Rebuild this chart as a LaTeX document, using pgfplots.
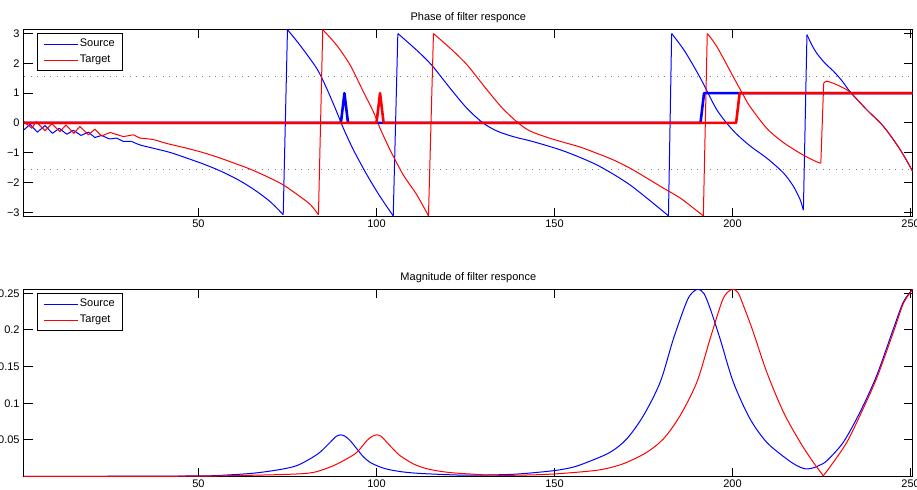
\documentclass[border=0pt]{standalone}
\usepackage{pgfplots}
\pgfplotsset{compat=1.18}
\usepackage{fontspec}
\setmainfont{Liberation Sans}
\newcommand{\fsz}{\fontsize{5.5pt}{6.6pt}\selectfont}
\pgfplotsset{
  mystyle/.style={
    scale only axis, width=444.35pt, height=93.6pt,
    xmin=1, xmax=250.6,
    xtick={50,100,150,200,250}, xticklabels={50,100,150,200,250},
    tick align=inside, major tick length=4.5pt,
    axis line style={line width=0.5pt},
    every tick/.style={black, line width=0.5pt},
    tick label style={font=\fsz},
    xticklabel style={inner sep=0pt, yshift=-1.7pt},
    yticklabel style={inner sep=0pt, xshift=-2pt},
    title style={font=\fsz, anchor=base, at={(0.5,1)}, yshift=-1.5pt, inner sep=0pt},
    legend style={at={(0,1)}, anchor=north west, xshift=6.65pt, yshift=-2pt,
      draw=black, line width=0.5pt, fill=white, font=\fsz,
      inner xsep=3pt, inner ysep=1.15pt, row sep=0pt,
      nodes={inner xsep=0.85pt, inner ysep=1.4pt, text height=4pt, text depth=1.2pt}},
    legend image code/.code={\draw (0pt,0pt) -- (16.7pt,0pt);},
    legend cell align=left,
  },
  thin/.style={line width=0.5pt, line join=round},
  sm/.style={line width=0.5pt, line join=round, smooth, tension=0.5},
  thick/.style={line width=1.3pt, line join=round},
}
\definecolor{mblue}{RGB}{0,0,255}
\definecolor{mred}{RGB}{255,0,0}
\definecolor{dotgray}{RGB}{128,128,128}
\begin{document}
\begin{tikzpicture}
\begin{axis}[mystyle, at={(12pt,-14.65pt)}, anchor=north west,
  ymin=-3.1416, ymax=3.1416,
  ytick={-3,-2,-1,0,1,2,3}, yticklabels={−3,−2,−1,0,1,2,3},
  title={Phase of filter responce}]
\addplot[forget plot, dotgray, line width=0.5pt, dash pattern=on 0.5pt off 2.8pt] coordinates {(1,1.5708) (250.6,1.5708)};
\addplot[forget plot, dotgray, line width=0.5pt, dash pattern=on 0.5pt off 2.8pt] coordinates {(1,-1.5708) (250.6,-1.5708)};
% Source phase
\addplot[mblue, thin] coordinates {
(1,-0.23) (2.7,-0.05) (4.75,-0.31) (6.9,-0.09) (9.0,-0.35) (10.9,-0.18) (13.0,-0.38) (14.9,-0.25) (17.0,-0.42) (19.1,-0.31) (20.9,-0.49) (22.8,-0.42) (25.0,-0.54) (27.0,-0.51) (28.9,-0.62) (31.2,-0.62)
};
\addlegendentry{Source}
\addplot[forget plot, mblue, sm] coordinates {
(31.2,-0.62) (33.6,-0.74) (37.3,-0.85) (42.0,-0.99) (46.7,-1.18) (51.4,-1.38) (56.1,-1.61) (60.7,-1.88) (64.5,-2.15) (67.3,-2.38) (70.5,-2.68) (73.8,-3.08)
};
\addplot[forget plot, mblue, thin] coordinates {(73.8,-3.08) (75.0,3.13)};
\addplot[forget plot, mblue, sm] coordinates {
(75.0,3.13) (78.5,2.61) (83.2,1.83) (86.0,1.16) (88.8,0.38) (90.7,-0.18) (93.5,-0.9) (97.3,-1.74) (101.0,-2.47) (104.7,-3.12)
};
\addplot[forget plot, mblue, thin] coordinates {(104.7,-3.12) (106.0,3.0)};
\addplot[forget plot, mblue, sm] coordinates {
(106.0,3.0) (111.3,2.44) (115.5,1.94) (120.7,1.16) (125.4,0.49) (129.9,0.0) (133.8,-0.27) (138.4,-0.46) (143.1,-0.60) (147.8,-0.76) (152.5,-0.94) (157.2,-1.16) (161.9,-1.41) (166.5,-1.72) (171.2,-2.08) (175.9,-2.52) (179.7,-2.89) (182.0,-3.12)
};
\addplot[forget plot, mblue, thin] coordinates {(182.0,-3.12) (182.9,3.0)};
\addplot[forget plot, mblue, sm] coordinates {
(182.9,3.0) (186.5,2.42) (190.9,1.52) (195.6,0.44) (200.2,-0.26) (204.9,-0.77) (209.6,-1.18) (214.3,-1.68) (217.1,-2.13) (219.0,-2.58) (219.9,-2.93)
};
\addplot[forget plot, mblue, thin] coordinates {(219.9,-2.93) (220.9,2.96)};
\addplot[forget plot, mblue, sm] coordinates {
(220.9,2.96) (222.3,2.61) (223.7,2.33) (226.0,2.0) (228.3,1.74) (230.7,1.42) (233.0,1.05) (237.7,0.44) (242.4,-0.12) (247.1,-0.9) (250.6,-1.63)
};
% Target phase
\addplot[mred, thin] coordinates {
(1,0.04) (3.2,-0.18) (4.4,0.04) (6.9,-0.26) (8.8,-0.03) (11.1,-0.29) (12.8,-0.07) (15.0,-0.35) (16.7,-0.12) (19.1,-0.40) (20.9,-0.21) (22.8,-0.44) (25.2,-0.32) (28.9,-0.46) (31.7,-0.40) (33.6,-0.51)
};
\addlegendentry{Target}
\addplot[forget plot, mred, sm] coordinates {
(33.6,-0.51) (37.3,-0.56) (41.1,-0.69) (46.7,-0.85) (51.4,-1.0) (56.1,-1.18) (60.7,-1.38) (64.5,-1.55) (69.2,-1.80) (73.8,-2.08) (78.5,-2.47) (81.5,-2.75) (83.7,-3.08)
};
\addplot[forget plot, mred, thin] coordinates {(83.7,-3.08) (84.9,3.13)};
\addplot[forget plot, mred, sm] coordinates {
(84.9,3.13) (88.8,2.61) (92.6,1.94) (96.3,1.05) (99.1,0.38) (101.0,-0.18) (103.8,-0.9) (107.5,-1.74) (111.3,-2.41) (114.6,-3.12)
};
\addplot[forget plot, mred, thin] coordinates {(114.6,-3.12) (116.0,3.0)};
\addplot[forget plot, mred, sm] coordinates {
(116.0,3.0) (121.3,2.44) (125.5,1.94) (130.7,1.16) (135.4,0.49) (139.8,0.0) (143.1,-0.27) (147.8,-0.48) (152.5,-0.65) (157.2,-0.81) (161.9,-1.02) (166.5,-1.24) (171.2,-1.52) (175.9,-1.85) (180.6,-2.19) (185.3,-2.52) (189.0,-2.86) (191.8,-3.12)
};
\addplot[forget plot, mred, thin] coordinates {(191.8,-3.12) (192.9,3.0)};
\addplot[forget plot, mred, sm] coordinates {
(192.9,3.0) (195.6,2.56) (200.2,1.55) (203.0,0.94) (204.9,0.55) (209.6,-0.18) (214.3,-0.66) (219.0,-1.02) (221.8,-1.2) (224.1,-1.33) (224.8,-1.35)
};
\addplot[forget plot, mred, thin] coordinates {(224.8,-1.35) (225.6,1.33)};
\addplot[forget plot, mred, sm] coordinates {
(225.6,1.33) (226.4,1.40) (228.3,1.33) (230.7,1.2) (233.0,1.03) (237.7,0.44) (242.4,-0.12) (247.1,-0.9) (250.6,-1.63)
};
\addplot[forget plot, mblue, thick] coordinates {(1,0) (90,0) (91,1) (92,0) (191,0) (192,1) (250.6,1)};
\addplot[forget plot, mred, thick] coordinates {(1,0) (100,0) (101,1) (102,0) (201,0) (202,1) (250.6,1)};
\end{axis}
\begin{axis}[mystyle, at={(12pt,-144.65pt)}, anchor=north west,
  ymin=0, ymax=0.2555,
  ytick={0.05,0.1,0.15,0.2,0.25}, yticklabels={0.05,0.1,0.15,0.2,0.25},
  title={Magnitude of filter responce}]
\addplot[mblue, sm] coordinates {
(1,0.0002) (30,0.0004) (50,0.0008) (56,0.0015) (65.4,0.0045) (72.9,0.0095) (77.6,0.0148) (81.3,0.024) (84.1,0.033) (87.0,0.0467) (88.6,0.0545) (90.0,0.0569) (91.3,0.0545) (92.6,0.049) (94.5,0.0377) (96.3,0.027) (98.2,0.0193) (100.5,0.014) (102.9,0.0101) (107,0.0065) (112.2,0.0042) (121.6,0.0022) (126.3,0.0018) (132.8,0.0022) (140,0.0035) (149.7,0.0079) (155,0.0125) (159.1,0.0193) (165.6,0.033) (170.3,0.0514) (175.0,0.0833) (179.7,0.129) (183.4,0.188) (187.1,0.2385) (188.8,0.2515) (190.4,0.2555) (192.0,0.2495) (193.7,0.2295) (196.5,0.188) (200.2,0.129) (204.9,0.0788) (209.6,0.0467) (215.2,0.024) (218.2,0.0145) (220.4,0.0105) (222.5,0.0115) (224.5,0.0155) (226.5,0.0216) (231.1,0.0467) (235.8,0.0878) (240.5,0.138) (245.2,0.202) (248.0,0.2385) (250.6,0.2555)
};
\addlegendentry{Source}
\addplot[mred, sm] coordinates {
(1,0.0001) (50,0.0004) (56,0.0008) (74.8,0.0029) (82.3,0.0056) (87.9,0.0148) (91.6,0.024) (94.5,0.033) (97.3,0.049) (98.7,0.0545) (100.1,0.0569) (101.4,0.0545) (102.9,0.0467) (104.6,0.038) (106.6,0.0285) (110.4,0.0171) (113.5,0.0115) (116.9,0.0079) (121,0.0052) (126.3,0.0034) (132.8,0.0018) (140,0.0018) (149.7,0.0034) (160.9,0.0079) (166,0.0125) (170.3,0.0193) (175.9,0.033) (180.6,0.0514) (185.3,0.0833) (190.0,0.129) (193.7,0.188) (197.0,0.2385) (198.6,0.2515) (200.2,0.2555) (201.6,0.2505) (203.0,0.234) (205.8,0.1974) (209.6,0.1426) (214.3,0.0878) (219.0,0.0467) (222.7,0.0193) (225.5,0.001)
};
\addlegendentry{Target}
\addplot[forget plot, mred, sm] coordinates {
(225.5,0.001) (228.3,0.0193) (232.1,0.0467) (235.8,0.0833) (240.5,0.1344) (245.2,0.1974) (248.0,0.2363) (250.6,0.2555)
};
\end{axis}
\pgfresetboundingbox
\useasboundingbox (0pt,0pt) rectangle (458.5pt,-244.5pt);
\end{tikzpicture}
\end{document}
